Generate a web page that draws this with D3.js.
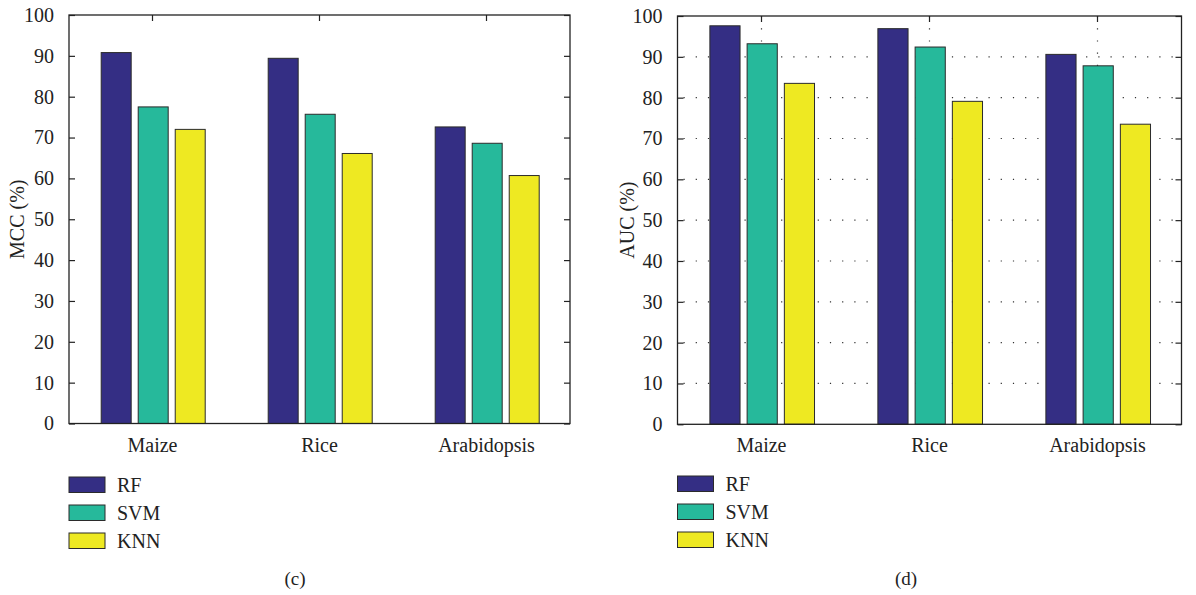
<!DOCTYPE html>
<html>
<head>
<meta charset="utf-8">
<script src="https://cdn.jsdelivr.net/npm/d3@7"></script>
<style>
  body { margin: 0; background: #fff; }
  svg { display: block; }
  text { font-family: "Liberation Serif", "Times New Roman", serif; fill: #222; }
</style>
</head>
<body>
<svg id="chart" width="1196" height="595"></svg>
<script>
const categories = ["Maize", "Rice", "Arabidopsis"];
const seriesNames = ["RF", "SVM", "KNN"];
const seriesColors = ["#342e84", "#26b99b", "#eee922"];
const mccRF  = [90.8, 89.4, 72.6];
const mccSVM = [77.5, 75.7, 68.6];
const mccKNN = [72.0, 66.1, 60.7];
const aucRF  = [97.6, 96.9, 90.6];
const aucSVM = [93.2, 92.4, 87.8];
const aucKNN = [83.5, 79.1, 73.5];
const yTicks = [0, 10, 20, 30, 40, 50, 60, 70, 80, 90, 100];
const panelTitles = ["MCC (%)", "AUC (%)"];
const panelCaptions = ["(c)", "(d)"];

const svg = d3.select("#chart");

const panels = [
  { x0: 69, x1: 570, y0: 15, y1: 423.5, values: [mccRF, mccSVM, mccKNN], title: panelTitles[0], caption: panelCaptions[0], grid: false,
    titleX: 17, legendX: 69, legendY: 477, captionX: 295 },
  { x0: 677.5, x1: 1181.5, y0: 16, y1: 424.3, values: [aucRF, aucSVM, aucKNN], title: panelTitles[1], caption: panelCaptions[1], grid: true,
    titleX: 627, legendX: 677.5, legendY: 476, captionX: 906 }
];

panels.forEach(p => {
  const g = svg.append("g");
  const x = d3.scaleBand().domain(categories).range([p.x0, p.x1]).padding(0);
  const bw = x.bandwidth();
  const xs = d3.scaleBand().domain(seriesNames).range([bw * 0.1886 + 0.7, bw * 0.8114 + 0.7]).paddingInner(0.19).paddingOuter(0);
  const y = d3.scaleLinear().domain([0, 100]).range([p.y1, p.y0]);

  if (p.grid) {
    const gg = g.append("g").attr("stroke", "#333").attr("stroke-width", 1.2).attr("stroke-dasharray", "1.2,11");
    yTicks.slice(1, -1).forEach(t => {
      gg.append("line").attr("x1", p.x0 + 6).attr("x2", p.x1).attr("y1", y(t)).attr("y2", y(t));
    });
    categories.forEach(c => {
      const cx = x(c) + bw / 2;
      gg.append("line").attr("x1", cx).attr("x2", cx).attr("y1", p.y0).attr("y2", p.y1);
    });
  }

  seriesNames.forEach((s, si) => {
    g.append("g").selectAll("rect").data(categories).join("rect")
      .attr("x", c => x(c) + xs(s))
      .attr("width", xs.bandwidth())
      .attr("y", (c, i) => y(p.values[si][i]))
      .attr("height", (c, i) => y(0) - y(p.values[si][i]))
      .attr("fill", seriesColors[si])
      .attr("stroke", "#2b2b2b")
      .attr("stroke-width", 1);
  });

  g.append("rect").attr("x", p.x0).attr("y", p.y0).attr("width", p.x1 - p.x0).attr("height", p.y1 - p.y0)
    .attr("fill", "none").attr("stroke", "#222").attr("stroke-width", 1.3);

  const yAxisL = d3.axisLeft(y).tickValues(yTicks).tickSizeInner(-6).tickSizeOuter(0).tickPadding(15);
  const ga = g.append("g").attr("transform", `translate(${p.x0},0)`).call(yAxisL);
  ga.select(".domain").remove();
  ga.selectAll("line").attr("stroke", "#222").attr("stroke-width", 1.2);
  ga.selectAll("text").attr("font-size", 20).attr("fill", "#222").attr("font-family", "Liberation Serif, serif");

  const yAxisR = d3.axisRight(y).tickValues(yTicks).tickSizeInner(-6).tickSizeOuter(0).tickFormat("");
  const gr = g.append("g").attr("transform", `translate(${p.x1},0)`).call(yAxisR);
  gr.select(".domain").remove();
  gr.selectAll("line").attr("stroke", "#222").attr("stroke-width", 1.2);

  const xAxisT = d3.axisTop(x).tickSizeInner(-6).tickSizeOuter(0).tickFormat("");
  const gt = g.append("g").attr("transform", `translate(0,${p.y0})`).call(xAxisT);
  gt.select(".domain").remove();
  gt.selectAll("line").attr("stroke", "#222").attr("stroke-width", 1.2);

  const xAxisB = d3.axisBottom(x).tickSize(0).tickPadding(10);
  const gb = g.append("g").attr("transform", `translate(0,${p.y1})`).call(xAxisB);
  gb.select(".domain").remove();
  gb.selectAll("text").attr("font-size", 20).attr("fill", "#222").attr("font-family", "Liberation Serif, serif").attr("dy", "0.9em");

  g.append("text")
    .attr("transform", `translate(${p.titleX},${(p.y0 + p.y1) / 2}) rotate(-90)`)
    .attr("text-anchor", "middle").attr("dominant-baseline", "central")
    .attr("font-size", 20).text(p.title);

  const lg = g.append("g").attr("transform", `translate(${p.legendX},${p.legendY})`);
  seriesNames.forEach((s, i) => {
    lg.append("rect").attr("x", 0).attr("y", i * 28).attr("width", 36).attr("height", 15.5)
      .attr("fill", seriesColors[i]).attr("stroke", "#2b2b2b").attr("stroke-width", 1);
    lg.append("text").attr("x", 48).attr("y", i * 28 + 14.5).attr("font-size", 20).text(s);
  });

  g.append("text").attr("x", p.captionX).attr("y", 585).attr("text-anchor", "middle")
    .attr("font-size", 19).text(p.caption);
});
</script>
</body>
</html>
